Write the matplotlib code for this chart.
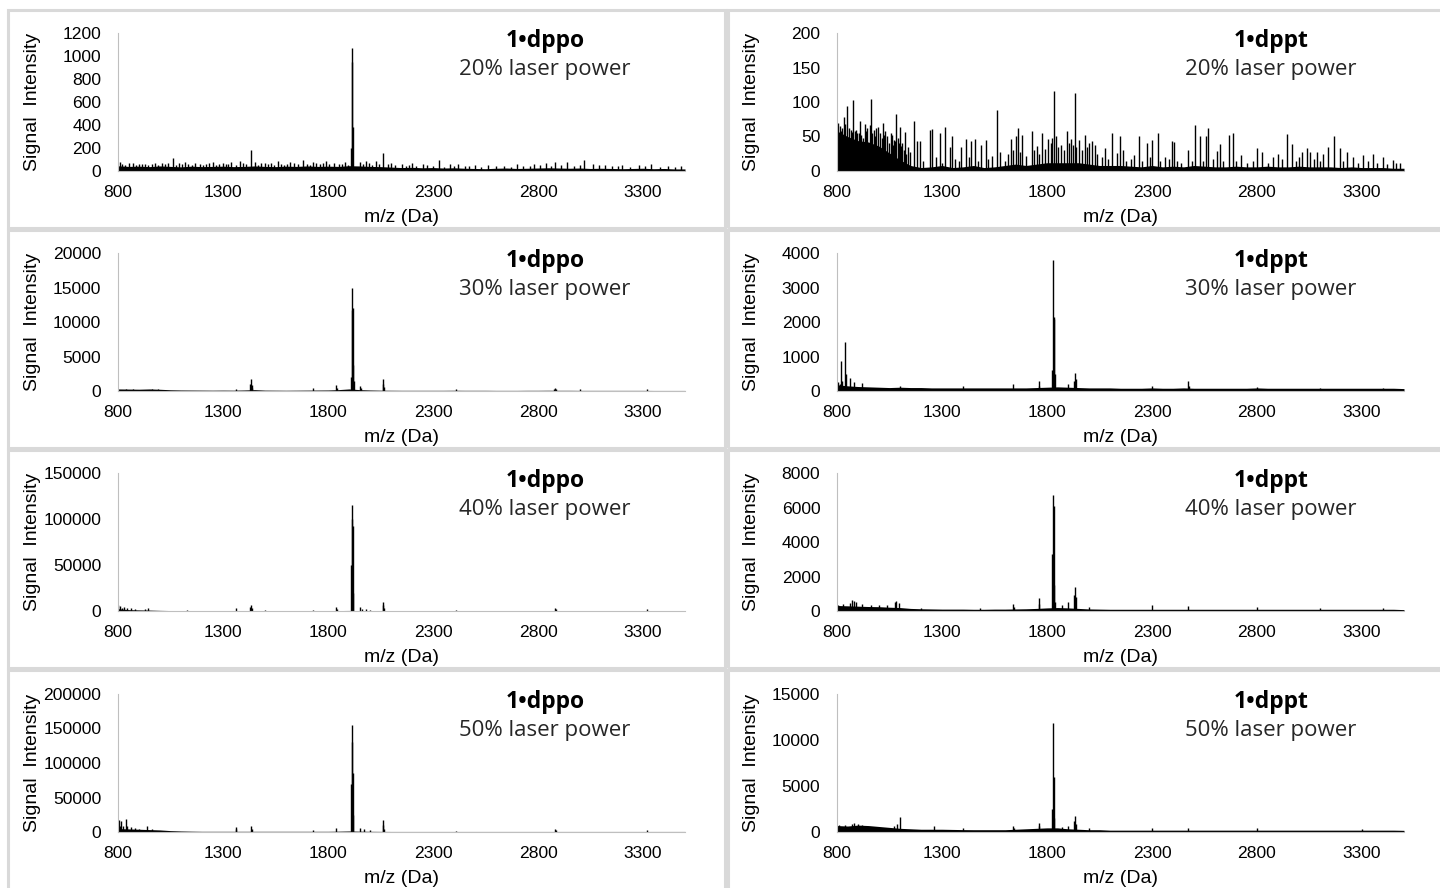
import numpy as np
import matplotlib.pyplot as plt

# noise floor sampled every 50 Da (800 ... 3500)
grid_mz = np.arange(800, 3501, 50)

noise_dppo_20 = [45, 40, 42, 38, 44, 40, 36, 42, 38, 40, 42, 38, 40, 44, 40, 38, 42, 40, 44, 40,
                 42, 40, 46, 44, 40, 38, 34, 30, 32, 28, 30, 26, 28, 24, 22, 20, 24, 26, 22, 24,
                 26, 28, 26, 24, 26, 22, 24, 22, 20, 22, 24, 20, 22, 18, 18]
noise_dppt_20 = [58, 50, 44, 42, 36, 26, 16, 8, 5, 6, 8, 5, 6, 8, 5, 6, 8, 10, 8, 10,
                 12, 12, 12, 12, 10, 8, 8, 8, 7, 6, 8, 6, 7, 6, 8, 7, 6, 6, 7, 6,
                 6, 7, 6, 6, 7, 6, 6, 6, 5, 6, 5, 5, 5, 4, 4]
noise_dppo_30 = [300, 280, 260, 300, 250, 180, 150, 140, 130, 120, 130, 120, 150, 200, 130, 120, 110, 120, 130, 140,
                 150, 200, 300, 200, 150, 120, 110, 100, 100, 100, 100, 100, 110, 100, 100, 100, 90, 90, 90, 100,
                 100, 110, 100, 100, 90, 90, 90, 90, 90, 90, 90, 80, 80, 80, 80]
noise_dppt_30 = [180, 150, 130, 120, 110, 100, 110, 100, 100, 90, 90, 90, 90, 90, 90, 90, 90, 90, 90, 100,
                 110, 120, 110, 100, 90, 90, 90, 80, 80, 80, 90, 80, 80, 90, 80, 80, 80, 80, 80, 80,
                 90, 80, 80, 80, 80, 80, 80, 80, 80, 80, 80, 80, 80, 80, 70]
noise_dppo_40 = [2500, 1500, 1200, 1000, 700, 500, 400, 400, 400, 400, 400, 400, 400, 400, 400, 400, 400, 400, 400, 400,
                 400, 500, 600, 500, 400, 400, 300, 300, 300, 300, 300, 300, 300, 300, 300, 300, 300, 300, 300, 300,
                 300, 300, 300, 300, 300, 300, 300, 300, 300, 300, 300, 300, 300, 300, 300]
noise_dppt_40 = [320, 300, 280, 260, 250, 220, 200, 150, 130, 120, 110, 110, 110, 100, 100, 110, 110, 120, 130, 150,
                 180, 200, 180, 150, 120, 110, 100, 100, 100, 100, 100, 100, 100, 100, 100, 100, 100, 100, 100, 100,
                 100, 100, 100, 100, 100, 100, 100, 100, 100, 100, 100, 100, 100, 100, 80]
noise_dppo_50 = [5000, 4500, 4000, 3500, 3000, 2000, 1500, 1200, 1000, 1000, 1000, 1000, 1000, 1000, 1000, 1000, 1000, 1000, 1000, 1000,
                 1000, 1200, 1500, 1200, 1000, 900, 800, 800, 800, 800, 800, 800, 800, 800, 800, 800, 800, 800, 800, 800,
                 800, 800, 800, 800, 800, 800, 800, 800, 800, 800, 800, 800, 800, 800, 800]
noise_dppt_50 = [700, 650, 750, 700, 600, 500, 400, 350, 300, 300, 300, 280, 260, 250, 250, 250, 250, 300, 350, 400,
                 450, 450, 350, 300, 250, 250, 200, 200, 200, 200, 200, 200, 200, 200, 200, 200, 200, 200, 200, 200,
                 200, 200, 200, 200, 200, 200, 200, 200, 200, 200, 200, 200, 200, 200, 180]

# peaks: m/z and intensity
mz_dppo_20 = [810, 850, 900, 960, 1010, 1060, 1120, 1190, 1250, 1300, 1340, 1380, 1433, 1450, 1500, 1560,
              1620, 1680, 1730, 1790, 1830, 1880, 1910, 1913, 1915, 1918, 1950, 1980, 2030, 2062, 2100, 2150,
              2200, 2250, 2330, 2380, 2420, 2500, 2560, 2640, 2700, 2780, 2840, 2880, 2940, 3020, 3060, 3120,
              3200, 3280, 3340, 3420, 3480,
              820, 835, 870, 885, 915, 930, 945, 975, 990, 1025, 1040, 1075, 1090, 1105, 1135, 1150,
              1165, 1205, 1220, 1235, 1265, 1280, 1315, 1325, 1360, 1395, 1410, 1465, 1480, 1515, 1530, 1545,
              1575, 1590, 1605, 1640, 1655, 1700, 1715, 1745, 1760, 1775, 1805, 1850, 1865, 1895, 1965, 1995,
              2010, 2045, 2085, 2120, 2170, 2185, 2220, 2270, 2300, 2350, 2400, 2450, 2470, 2530, 2600, 2670,
              2730, 2760, 2810, 2860, 2910, 2970, 3000, 3090, 3150, 3180, 3240, 3310, 3380, 3450]
int_dppo_20 = [75, 70, 60, 65, 70, 110, 75, 65, 80, 70, 80, 90, 185, 80, 70, 90,
               75, 95, 80, 90, 70, 80, 200, 950, 1070, 380, 75, 85, 90, 160, 70, 60,
               70, 60, 95, 60, 65, 55, 50, 45, 60, 65, 70, 75, 80, 95, 60, 55,
               50, 50, 60, 45, 40,
               62, 55, 68, 50, 58, 64, 52, 70, 56, 60, 66, 54, 72, 58, 62, 50,
               66, 55, 60, 70, 52, 64, 58, 62, 56, 68, 60, 54, 66, 58, 70, 52,
               64, 56, 60, 72, 58, 62, 54, 66, 60, 70, 58, 64, 62, 56, 60, 66,
               54, 62, 58, 50, 45, 52, 40, 48, 42, 38, 46, 40, 44, 36, 42, 38,
               44, 40, 48, 46, 52, 44, 56, 48, 42, 46, 38, 44, 36, 34]

mz_dppt_20 = [805, 815, 825, 832, 840, 848, 865, 876, 885, 895, 909, 915, 933, 945, 955, 963, 975, 985, 995,
              1005, 1019, 1030, 1040, 1060, 1070, 1082, 1090, 1099, 1110, 1125, 1140, 1165, 1181, 1197, 1241,
              1254, 1292, 1315, 1336, 1348, 1392, 1416, 1439, 1455, 1487, 1508, 1560, 1575, 1628, 1652, 1660,
              1679, 1727, 1751, 1775, 1806, 1835, 1843, 1868, 1897, 1916, 1932, 1952, 1981, 2013, 2027, 2075,
              2110, 2135, 2149, 2162, 2214, 2238, 2276, 2300, 2329, 2362, 2395, 2405, 2471, 2505, 2529, 2557,
              2569, 2610, 2624, 2667, 2686, 2724, 2800, 2824, 2877, 2900, 2943, 2967, 3014, 3038, 3052, 3086,
              3114, 3138, 3167, 3195, 3229, 3257, 3305, 3352, 3400, 3448, 3481,
              810, 820, 830, 855, 870, 890, 905, 925, 940, 968, 980, 1012, 1025, 1048, 1055, 1065,
              1078, 1095, 1105, 1118, 1130, 1148, 1210, 1270, 1300, 1360, 1380, 1430, 1470, 1520, 1540, 1600,
              1615, 1640, 1670, 1700, 1740, 1760, 1790, 1820, 1825, 1850, 1880, 1905, 1925, 1940, 1965, 1990,
              2000, 2040, 2060, 2090, 2175, 2200, 2250, 2290, 2340, 2380, 2420, 2440, 2490, 2545, 2590, 2640,
              2700, 2750, 2780, 2850, 2920, 2985, 3000, 3070, 3100, 3210, 3280, 3330, 3370, 3420, 3460]
int_dppt_20 = [70, 65, 62, 78, 68, 94, 60, 103, 58, 55, 72, 52, 68, 62, 66, 105, 60, 63, 64,
               55, 70, 58, 50, 52, 45, 82, 48, 64, 40, 57, 35, 73, 43, 43, 60,
               61, 55, 64, 35, 50, 35, 47, 44, 46, 37, 45, 89, 28, 46, 50, 63,
               52, 58, 36, 55, 46, 116, 50, 37, 58, 47, 113, 45, 52, 43, 37, 33,
               55, 26, 50, 30, 23, 50, 40, 45, 55, 21, 43, 42, 30, 67, 50, 50,
               62, 29, 39, 52, 55, 23, 33, 27, 21, 25, 54, 39, 28, 33, 27, 28,
               25, 35, 51, 33, 27, 21, 23, 24, 21, 16, 11,
               55, 58, 50, 62, 56, 60, 55, 48, 58, 55, 50, 48, 52, 40, 55, 38,
               44, 40, 36, 30, 25, 28, 15, 20, 12, 18, 14, 20, 15, 18, 22, 15,
               25, 30, 28, 22, 30, 25, 32, 40, 48, 35, 30, 40, 38, 35, 30, 35,
               40, 25, 20, 18, 15, 18, 15, 20, 15, 18, 15, 12, 14, 15, 18, 14,
               15, 12, 14, 12, 18, 15, 20, 18, 15, 14, 12, 14, 12, 10, 12]

mz_dppo_30 = [840, 870, 960, 990, 1360, 1430, 1433, 1436, 1440, 1730, 1838, 1842, 1910, 1913, 1915, 1917,
              1920, 1925, 1950, 1955, 2060, 2062, 2066, 2410, 2878, 2882, 2886, 3000, 3320]
int_dppo_30 = [350, 300, 300, 300, 300, 1000, 1800, 900, 500, 500, 900, 400, 2100, 11800, 15000, 12000,
               3800, 1500, 700, 400, 1000, 1800, 600, 300, 300, 450, 250, 250, 300]

mz_dppt_30 = [805, 812, 820, 825, 838, 841, 860, 880, 920, 1100, 1400, 1640, 1760, 1763, 1826, 1829,
              1831, 1834, 1838, 1900, 1930, 1933, 1936, 2300, 2470, 2474, 2800, 3100, 3400]
int_dppt_30 = [250, 200, 880, 300, 1420, 500, 380, 250, 220, 150, 150, 200, 300, 150, 600, 3800,
               2150, 2100, 500, 200, 300, 520, 350, 150, 280, 150, 120, 100, 100]

mz_dppo_40 = [802, 808, 818, 830, 845, 860, 880, 930, 945, 1130, 1360, 1430, 1433, 1437, 1500, 1730, 1838,
              1842, 1910, 1913, 1915, 1917, 1921, 1950, 1960, 1980, 2000, 2060, 2062, 2066, 2410, 2880, 2884, 3320]
int_dppo_40 = [6000, 5500, 3500, 4500, 3500, 3000, 2500, 2500, 3000, 1000, 3000, 4000, 6500, 3000, 800, 1500, 4000,
               2000, 50000, 100000, 115000, 92000, 20000, 4500, 2500, 2000, 1500, 6000, 10000, 3000, 1000, 3000, 2000, 2500]

mz_dppt_40 = [805, 830, 860, 872, 880, 890, 920, 960, 1000, 1040, 1075, 1082, 1095, 1200, 1480, 1640, 1645,
              1760, 1763, 1826, 1829, 1831, 1834, 1838, 1870, 1900, 1930, 1933, 1936, 2000, 2300, 2470, 2800,
              3100, 3400]
int_dppt_40 = [350, 400, 450, 620, 600, 500, 380, 350, 330, 350, 550, 600, 480, 200, 200, 400, 250,
               750, 400, 3300, 6700, 6100, 1500, 500, 350, 500, 900, 1400, 800, 250, 350, 300, 250,
               150, 150]

mz_dppo_50 = [803, 810, 816, 825, 840, 845, 860, 880, 900, 940, 960, 1360, 1364, 1433, 1437, 1730, 1838,
              1910, 1913, 1915, 1917, 1921, 1950, 1970, 2000, 2060, 2062, 2066, 2410, 2880, 2884, 3320]
int_dppo_50 = [17000, 8000, 16000, 9000, 19000, 8000, 7000, 6000, 5000, 9000, 5000, 7000, 4000, 9000, 5000, 3000, 6000,
               70000, 130000, 155000, 85000, 25000, 6000, 4000, 3000, 10000, 17000, 5000, 2000, 5000, 3000, 3000]

mz_dppt_50 = [810, 840, 870, 880, 900, 920, 1070, 1085, 1100, 1260, 1400, 1640, 1644, 1760, 1763, 1826,
              1829, 1831, 1834, 1870, 1900, 1930, 1933, 1936, 2000, 2300, 2470, 2800, 3300]
int_dppt_50 = [800, 750, 900, 1000, 850, 800, 600, 900, 1600, 700, 400, 700, 400, 1000, 600, 2500,
               11900, 6000, 1500, 500, 700, 1200, 1700, 900, 400, 400, 450, 400, 300]

labels = ["1\u2022dppo", "1\u2022dppt"]
powers = ["20% laser power", "30% laser power", "40% laser power", "50% laser power"]
y_max = [[1200, 200], [20000, 4000], [150000, 8000], [200000, 15000]]
y_step = [[200, 50], [5000, 1000], [50000, 2000], [50000, 5000]]
x_ticks = [800, 1300, 1800, 2300, 2800, 3300]

panels = [
    [(noise_dppo_20, mz_dppo_20, int_dppo_20), (noise_dppt_20, mz_dppt_20, int_dppt_20)],
    [(noise_dppo_30, mz_dppo_30, int_dppo_30), (noise_dppt_30, mz_dppt_30, int_dppt_30)],
    [(noise_dppo_40, mz_dppo_40, int_dppo_40), (noise_dppt_40, mz_dppt_40, int_dppt_40)],
    [(noise_dppo_50, mz_dppo_50, int_dppo_50), (noise_dppt_50, mz_dppt_50, int_dppt_50)],
]

axis_font = "Liberation Sans"
note_font = ["Open Sans", "DejaVu Sans"]

W, H = 1440, 888
fig = plt.figure(figsize=(14.4, 8.88), dpi=100)

# light grey panel frames
col_x = [(8, 725), (728, 1442)]
row_y = [(10, 228), (230, 448), (450, 668), (670, 892)]
for (x0, x1) in col_x:
    for (y0, y1) in row_y:
        fig.add_artist(plt.Rectangle((x0 / W, 1 - y1 / H), (x1 - x0) / W, (y1 - y0) / H,
                                     transform=fig.transFigure, fill=False,
                                     ec="#d9d9d9", lw=2.2))

ax_left = [118, 837]
ax_bottom = [171, 391, 611, 832]
ax_w, ax_h = 567, 138
note_x = [0.753, 0.765]

for r in range(4):
    for c in range(2):
        noise, mz, inten = panels[r][c]
        ax = fig.add_axes([ax_left[c] / W, 1 - ax_bottom[r] / H, ax_w / W, ax_h / H])
        ax.fill_between(grid_mz, 0, noise, color="black", lw=0)
        ax.vlines(mz, 0, inten, color="black", lw=1.0)
        ax.set_xlim(800, 3500)
        ax.set_ylim(0, y_max[r][c])
        ax.set_xticks(x_ticks)
        ax.set_yticks(np.arange(0, y_max[r][c] + 1, y_step[r][c]))
        ax.tick_params(length=0, labelsize=12.6)
        ax.tick_params(axis="x", pad=10)
        ax.tick_params(axis="y", pad=12)
        for t in ax.get_xticklabels() + ax.get_yticklabels():
            t.set_fontfamily(axis_font)
        for s in ["top", "right"]:
            ax.spines[s].set_visible(False)
        ax.spines["left"].set_color("#bfbfbf")
        ax.spines["bottom"].set_color("#bfbfbf")
        ax.set_xlabel("m/z (Da)", fontsize=14, family=axis_font)
        ax.xaxis.set_label_coords(0.5, -0.275)
        ax.set_ylabel("Signal  Intensity", fontsize=14, family=axis_font)
        ax.yaxis.set_label_coords(-0.136, 0.5)
        ax.text(note_x[c], 0.94, labels[c], transform=ax.transAxes, ha="center", va="center",
                fontsize=16.5, fontweight="bold", family=note_font)
        ax.text(note_x[c], 0.739, powers[r], transform=ax.transAxes, ha="center", va="center",
                fontsize=16, family=note_font, color="#262626")

fig.savefig("out.png", dpi=100)
